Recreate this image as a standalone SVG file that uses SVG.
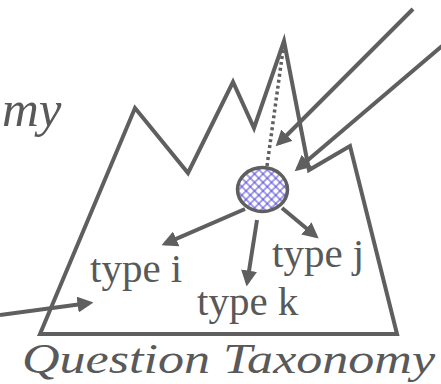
<svg xmlns="http://www.w3.org/2000/svg" width="441" height="384" viewBox="0 0 441 384">
<style>
.ln{stroke:#5f5f5f;stroke-width:4;fill:none}
.t{font-family:"Liberation Serif","Times New Roman",serif;fill:#595959}
.it{font-style:italic}
</style>
<defs>
<marker id="ah" markerUnits="userSpaceOnUse" viewBox="0 0 16 16" refX="12" refY="8" markerWidth="16" markerHeight="16" orient="auto">
<path d="M0,0 L16,8 L0,16 z" fill="#5f5f5f"/>
</marker>
<pattern id="hatch" patternUnits="userSpaceOnUse" width="6" height="6" patternTransform="rotate(45)">
<rect width="6" height="6" fill="#ffffff"/>
<path d="M0,3 H6 M3,0 V6" stroke="#4a3fd6" stroke-width="1"/>
</pattern>
</defs>
<g id="my"><text class="t it" x="2" y="126" font-size="51">my</text></g>
<g id="taxonomy">
<polygon class="ln" stroke-linejoin="miter" points="40,334 135,108 188,173 233,82 254,128 284,41 309,170 350,146 397,334"/>
</g>
<g id="node">
<ellipse cx="262.5" cy="189.5" rx="25" ry="22" fill="url(#hatch)" stroke="#5f5f5f" stroke-width="3.5"/>
</g>
<g id="type-i"><text class="t" x="90" y="282" font-size="41">type i</text></g>
<g id="type-k"><text class="t" x="197" y="315" font-size="41">type k</text></g>
<g id="type-j"><text class="t" x="272" y="267" font-size="41">type j</text></g>
<g id="title"><text class="t it" x="22" y="373" font-size="42" textLength="413" lengthAdjust="spacingAndGlyphs">Question Taxonomy</text></g>
<g id="connectors">
<line x1="283" y1="50" x2="267" y2="166" stroke="#5f5f5f" stroke-width="3.5" stroke-dasharray="3 3"/>
<line class="ln" x1="413" y1="9" x2="278.5" y2="143.5" marker-end="url(#ah)"/>
<line class="ln" x1="442" y1="46" x2="297.7" y2="168.7" marker-end="url(#ah)"/>
<line class="ln" x1="245" y1="209" x2="165.2" y2="243.6" marker-end="url(#ah)"/>
<line class="ln" x1="257" y1="220" x2="247.2" y2="282.5" marker-end="url(#ah)"/>
<line class="ln" x1="282" y1="208" x2="315.6" y2="236" marker-end="url(#ah)"/>
<line class="ln" x1="0" y1="315" x2="89.5" y2="303" marker-end="url(#ah)"/>
</g>
</svg>
